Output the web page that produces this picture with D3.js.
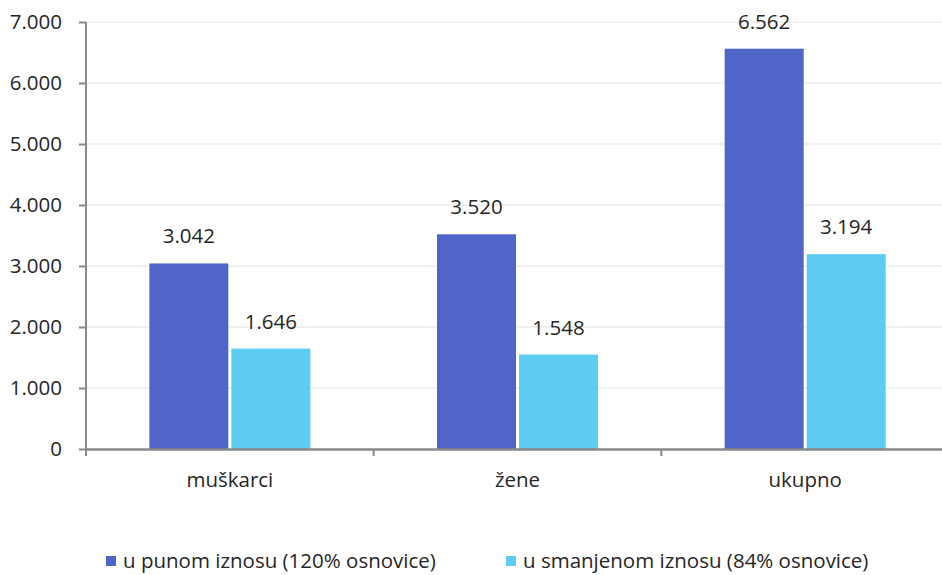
<!DOCTYPE html>
<html>
<head>
<meta charset="utf-8">
<script src="https://cdn.jsdelivr.net/npm/d3@7"></script>
<style>
  html, body { margin: 0; padding: 0; background: #fff; }
  svg text { font-family: "Open Sans", "Noto Sans", sans-serif; fill: #262626; }
</style>
</head>
<body>
<svg id="chart" width="942" height="575"></svg>
<script>
const categories = ["muškarci", "žene", "ukupno"];
const seriesNames = ["u punom iznosu (120% osnovice)", "u smanjenom iznosu (84% osnovice)"];
const fullAmount = [3042, 3520, 6562];
const reducedAmount = [1646, 1548, 3194];
const yTicks = [0, 1000, 2000, 3000, 4000, 5000, 6000, 7000];
const colors = ["#4F66C8", "#5DCCF2"];

const FONT = '"Open Sans", "Noto Sans", sans-serif';
const FS = 20.5;

const svg = d3.select("#chart");
const margin = { left: 86, top: 22, right: -7, bottom: 126 };
const W = 942, H = 575;
const plotW = W - margin.left - margin.right;
const plotH = H - margin.top - margin.bottom;

const g = svg.append("g").attr("transform", `translate(${margin.left},${margin.top})`);

const x = d3.scaleBand().domain(categories).range([0, plotW]);
const y = d3.scaleLinear().domain([0, 7000]).range([plotH, 0]);
const fmt = v => d3.format(",")(v).replace(/,/g, ".");

// horizontal gridlines
g.append("g").selectAll("line").data(yTicks.filter(t => t > 0)).join("line")
  .attr("x1", 0).attr("x2", W - margin.left)
  .attr("y1", d => y(d)).attr("y2", d => y(d))
  .attr("stroke", "#e4e4e4").attr("stroke-width", 1);

// bars with value labels
const barW = 79, gap = 3;
const series = [fullAmount, reducedAmount];
series.forEach((vals, si) => {
  const offset = si === 0 ? -barW - gap / 2 : gap / 2;
  g.append("g").selectAll("rect").data(categories).join("rect")
    .attr("x", c => x(c) + x.bandwidth() / 2 + offset)
    .attr("width", barW)
    .attr("y", (c, i) => y(vals[i]))
    .attr("height", (c, i) => y(0) - y(vals[i]))
    .attr("fill", colors[si]);
  g.append("g").selectAll("text").data(categories).join("text")
    .attr("x", c => x(c) + x.bandwidth() / 2 + offset + barW / 2)
    .attr("y", (c, i) => y(vals[i]) - 20)
    .attr("text-anchor", "middle")
    .attr("font-size", FS)
    .text((c, i) => fmt(vals[i]));
});

// y axis
const yAxis = g.append("g").call(d3.axisLeft(y).tickValues(yTicks).tickFormat(fmt).tickSize(7).tickPadding(17));
yAxis.select(".domain").attr("stroke", "#898989").attr("stroke-width", 2).attr("d", `M0,0V${plotH + 7}`);
yAxis.selectAll(".tick line").attr("stroke", "#898989").attr("stroke-width", 2);
yAxis.selectAll(".tick text").attr("font-size", FS).attr("fill", "#262626").style("font-family", FONT);

// x axis
const xAxis = g.append("g").attr("transform", `translate(0,${plotH})`)
  .call(d3.axisBottom(x).tickSize(0).tickPadding(23));
xAxis.select(".domain").attr("stroke", "#898989").attr("stroke-width", 2.5);
xAxis.selectAll(".tick text").attr("font-size", FS).attr("fill", "#262626").style("font-family", FONT);
// category separators
g.append("g").selectAll("line").data(categories).join("line")
  .attr("x1", c => x(c)).attr("x2", c => x(c))
  .attr("y1", plotH).attr("y2", plotH + 7)
  .attr("stroke", "#898989").attr("stroke-width", 2);

// legend
const legendX = [106, 506];
const legend = svg.append("g");
seriesNames.forEach((name, i) => {
  legend.append("rect").attr("x", legendX[i]).attr("y", 556).attr("width", 10).attr("height", 10).attr("fill", colors[i]);
  legend.append("text").attr("x", legendX[i] + 17).attr("y", 568).attr("font-size", FS).text(name);
});
</script>
</body>
</html>
